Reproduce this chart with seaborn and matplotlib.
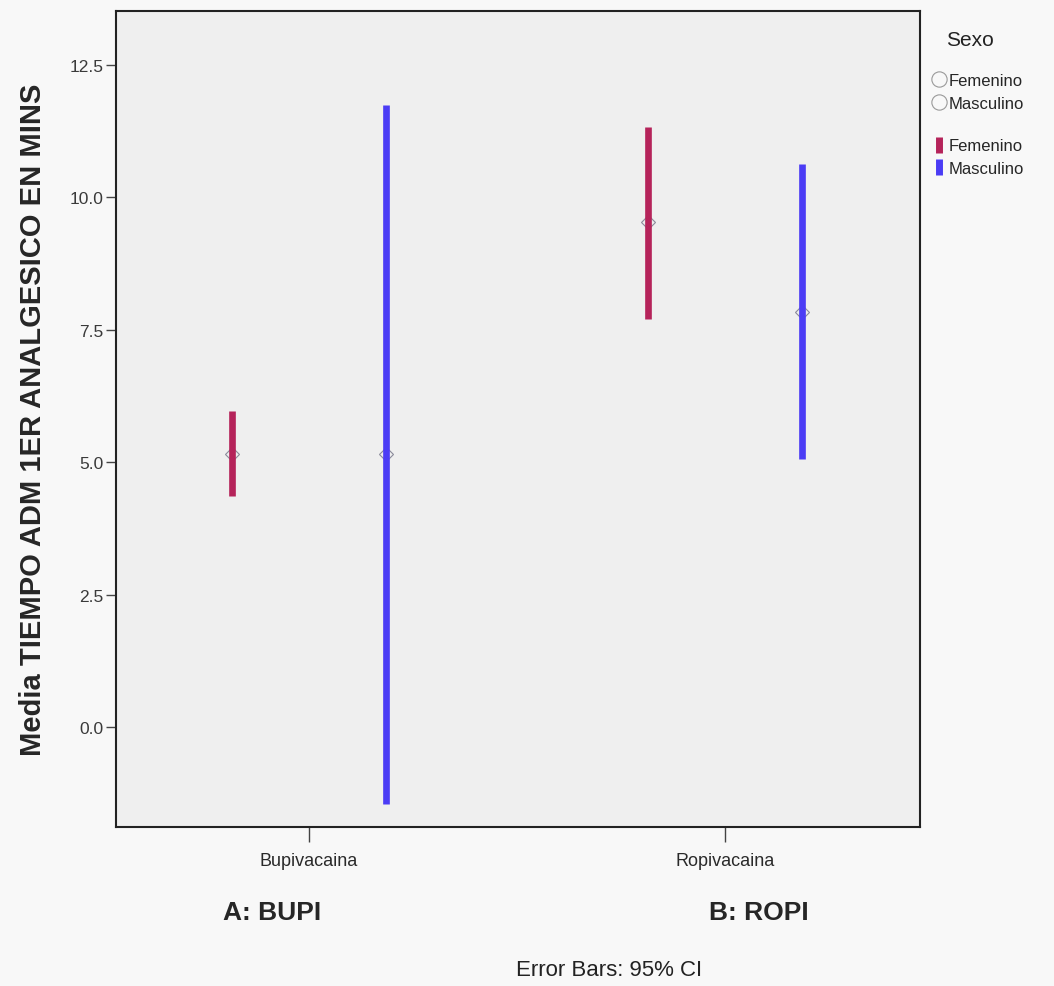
import pandas as pd
import matplotlib
matplotlib.use("Agg")
import matplotlib.pyplot as plt
from matplotlib.lines import Line2D
import seaborn as sns

# Datos (media e IC 95%)
grupos = ["Bupivacaina", "Ropivacaina"]
sexos = ["Femenino", "Masculino"]
media_fem = [5.15, 9.53]
ic_inf_fem = [4.36, 7.70]
ic_sup_fem = [5.96, 11.32]
media_masc = [5.15, 7.83]
ic_inf_masc = [-1.45, 5.06]
ic_sup_masc = [11.75, 10.62]
y_ticks = [0.0, 2.5, 5.0, 7.5, 10.0, 12.5]

colores = {"Femenino": "#b5235a", "Masculino": "#4b3cf5"}

# tabla larga: cada grupo tiene inferior, media y superior
filas = []
for sexo, med, lo, hi in [("Femenino", media_fem, ic_inf_fem, ic_sup_fem),
                          ("Masculino", media_masc, ic_inf_masc, ic_sup_masc)]:
    for g, m, a, b in zip(grupos, med, lo, hi):
        for v in (a, m, b):
            filas.append({"grupo": g, "sexo": sexo, "valor": v})
df = pd.DataFrame(filas)

sns.set_theme(style="white")
plt.rcParams["font.family"] = ["Liberation Sans", "DejaVu Sans"]

fig = plt.figure(figsize=(10.54, 9.87), dpi=100, facecolor="#f8f8f8")
ax = fig.add_axes([0.110, 0.161, 0.763, 0.827])
ax.set_facecolor("#efefef")

sns.pointplot(data=df, x="grupo", y="valor", hue="sexo", order=grupos,
              hue_order=sexos, palette=colores, estimator="median",
              errorbar=lambda v: (v.min(), v.max()), dodge=0.37,
              linestyle="none", markers="D", markersize=7,
              markerfacecolor="none", markeredgecolor="#8a8a9a",
              markeredgewidth=0.8,
              err_kws={"linewidth": 4.8, "solid_capstyle": "butt"},
              capsize=0, legend=False, ax=ax)

ax.set_xlim(-0.464, 1.469)
ax.set_ylim(-1.89, 13.52)
ax.set_yticks(y_ticks)
ax.set_yticklabels([f"{t:.1f}" for t in y_ticks], fontsize=12.5, color="#3a3a3a")
ax.tick_params(axis="y", direction="out", length=7, width=1, color="#444444",
               left=True, pad=2)
ax.tick_params(axis="x", direction="out", length=11, width=1, color="#444444",
               bottom=True, labelsize=13, pad=7, labelcolor="#2a2a2a")
ax.set_xlabel("")
ax.set_ylabel("Media TIEMPO ADM 1ER ANALGESICO EN MINS", fontsize=21,
              fontweight="bold", labelpad=16)
for s in ax.spines.values():
    s.set_color("#222222")
    s.set_linewidth(1.5)

fig.text(0.258, 0.075, "A: BUPI", fontsize=19, fontweight="bold", ha="center", va="center")
fig.text(0.720, 0.075, "B: ROPI", fontsize=19, fontweight="bold", ha="center", va="center")
fig.text(0.578, 0.017, "Error Bars: 95% CI", fontsize=16, ha="center", va="center",
         color="#222222")

# leyenda: titulo, marcadores de media y barras de error
fig.text(0.920, 0.959, "Sexo", fontsize=15, ha="center", va="center", color="#222222")
circulos = [Line2D([], [], linestyle="none", marker="o", markersize=11,
                   markerfacecolor="none", markeredgecolor="#999999",
                   markeredgewidth=0.8) for _ in sexos]
barras = [Line2D([], [], linestyle="none", marker="|", markersize=12,
                 markeredgecolor=colores[s], markeredgewidth=5) for s in sexos]
fig.legend(circulos, sexos, loc="upper left",
           bbox_to_anchor=(0.872, 0.940), frameon=False, fontsize=12,
           handlelength=0.6, handletextpad=0.25, labelspacing=0.45)
fig.legend(barras, sexos, loc="upper left",
           bbox_to_anchor=(0.872, 0.874), frameon=False, fontsize=12,
           handlelength=0.6, handletextpad=0.25, labelspacing=0.45)

plt.savefig("out.png", dpi=100, facecolor=fig.get_facecolor())
